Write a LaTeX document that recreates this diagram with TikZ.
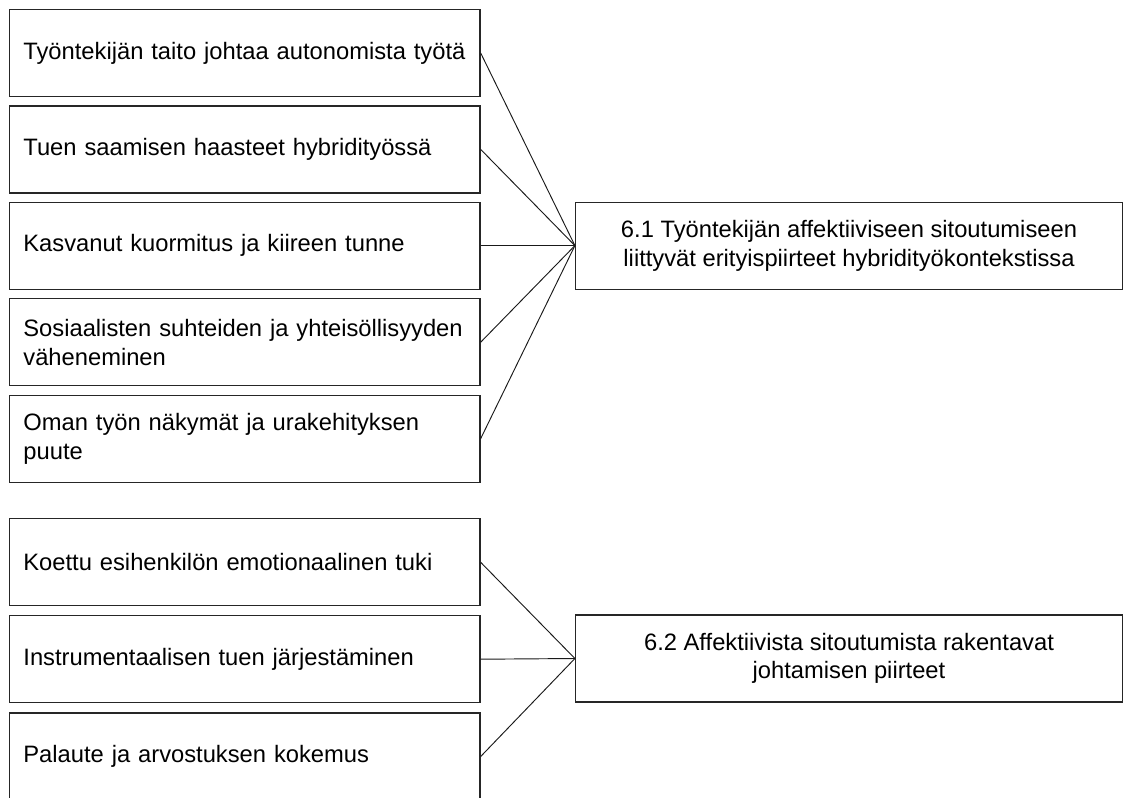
\documentclass[tikz,border=0pt]{standalone}
\usepackage{fontspec}
\setmainfont{Liberation Sans}
\usetikzlibrary{positioning}

\begin{document}
\begin{tikzpicture}[x=0.75pt, y=-0.75pt,
		leftbox/.style={draw=black!85, line width=0.9pt, minimum width=353pt, minimum height=65.25pt, text width=332pt, inner xsep=10.5pt, align=left, font=\fontsize{17.8}{21.5}\selectfont},
		themebox/.style={draw=black!85, line width=0.9pt, minimum width=410.25pt, minimum height=65.25pt, align=center, font=\fontsize{17.8}{21.5}\selectfont},
		link/.style={line width=0.7pt, black!90}]
		\useasboundingbox (0,0) rectangle (1123,797);
		% Theme 6.1
		\node[leftbox] (taito) at (244.75,53) {Työntekijän taito johtaa autonomista työtä};
		\node[leftbox] (tuki) at (244.75,149.4) {Tuen saamisen haasteet hybridityössä};
		\node[leftbox] (kuormitus) at (244.75,245.6) {Kasvanut kuormitus ja kiireen tunne};
		\node[leftbox] (sosiaal) at (244.75,342.2) {Sosiaalisten suhteiden ja yhteisöllisyyden\\väheneminen};
		\node[leftbox] (ura) at (244.75,438.6) {Oman työn näkymät ja urakehityksen\\puute};
		
		\node[themebox] (sitoutuminen) at (849,245.6) {6.1 Työntekijän affektiiviseen sitoutumiseen\\liittyvät erityispiirteet hybridityökontekstissa};
		
		\draw[link] (taito.east) -- (sitoutuminen.west);
		\draw[link] (tuki.east) -- (sitoutuminen.west);
		\draw[link] (kuormitus.east) -- (sitoutuminen.west);
		\draw[link] (sosiaal.east) -- (sitoutuminen.west);
		\draw[link] (ura.east) -- (sitoutuminen.west);
		
		% Theme 6.2
		\node[leftbox] (emotuki) at (244.75,562.3) {Koettu esihenkilön emotionaalinen tuki};
		\node[leftbox] (instr) at (244.75,659.2) {Instrumentaalisen tuen järjestäminen};
		\node[leftbox] (palaute) at (244.75,756.5) {Palaute ja arvostuksen kokemus};
		
		\node[themebox] (johtaminen) at (849,658.5) {6.2 Affektiivista sitoutumista rakentavat\\johtamisen piirteet};
		
		\draw[link] (emotuki.east) -- (johtaminen.west);
		\draw[link] (instr.east) -- (johtaminen.west);
		\draw[link] (palaute.east) -- (johtaminen.west);
	\end{tikzpicture}
\end{document}
